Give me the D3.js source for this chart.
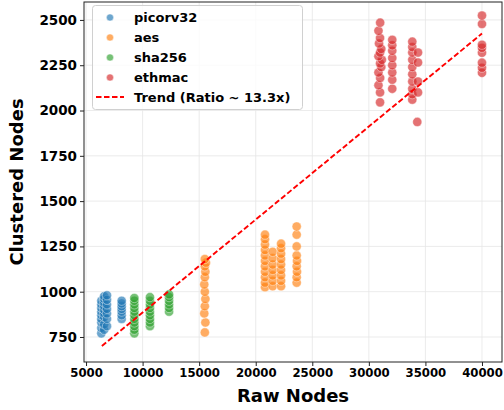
<!DOCTYPE html>
<html>
<head>
<meta charset="utf-8">
<script src="https://cdn.jsdelivr.net/npm/d3@7"></script>
<style>
  html, body { margin: 0; padding: 0; background: #fff; }
  text { font-family: "DejaVu Sans", sans-serif; font-weight: bold; }
</style>
</head>
<body>
<svg id="chart" width="504" height="410"></svg>
<script>
// series: raw node count, clustered node count
const designs = ["picorv32", "aes", "sha256", "ethmac"];
const colors = ["#1f77b4", "#ff7f0e", "#2ca02c", "#d62728"];

const picorv32 = [
    [6350, 770], [6350, 800], [6350, 830], [6350, 850], [6350, 870], [6350, 890], [6350, 910], [6350, 930], [6350, 950],
    [6600, 790], [6600, 820], [6600, 860], [6600, 880], [6600, 900], [6600, 920], [6600, 940], [6600, 960], [6600, 975],
    [6850, 810], [6850, 850], [6850, 880], [6850, 905], [6850, 930], [6850, 955], [6850, 980],
    [8150, 850], [8150, 870], [8150, 890], [8150, 905], [8150, 920], [8150, 935], [8150, 950]
];
const aes = [
    [15500, 775], [15550, 830], [15450, 880], [15500, 920], [15550, 960], [15500, 1000], [15450, 1040],
    [15500, 1080], [15550, 1110], [15500, 1140], [15600, 1160], [15500, 1180],
    [20820, 1025], [20820, 1050], [20820, 1080], [20820, 1110], [20820, 1140], [20820, 1170],
    [20820, 1200], [20820, 1230], [20820, 1260], [20820, 1290], [20820, 1315],
    [21500, 1030], [21500, 1060], [21500, 1090], [21500, 1120], [21500, 1150], [21500, 1185], [21500, 1220],
    [22240, 1030], [22240, 1060], [22240, 1090], [22240, 1120], [22240, 1150], [22240, 1180],
    [22240, 1210], [22240, 1240], [22240, 1265],
    [23620, 1050], [23620, 1080], [23650, 1110], [23620, 1140], [23650, 1170], [23620, 1200],
    [23620, 1250], [23620, 1315], [23620, 1360]
];
const sha256 = [
    [9270, 770], [9270, 790], [9270, 810], [9270, 830], [9270, 850], [9270, 870], [9270, 890],
    [9270, 910], [9270, 930], [9270, 950], [9270, 965],
    [10650, 810], [10650, 830], [10650, 850], [10650, 870], [10650, 890], [10650, 910],
    [10650, 930], [10650, 950], [10650, 970],
    [12340, 890], [12340, 910], [12340, 930], [12340, 950], [12340, 970], [12340, 985]
];
const ethmac = [
    [30990, 2045], [30990, 2100], [30850, 2140], [31000, 2180], [30850, 2210], [31100, 2240],
    [30990, 2260], [31150, 2280], [30850, 2300], [30990, 2320], [31100, 2340], [30900, 2370],
    [30990, 2400], [30850, 2440], [31000, 2485],
    [32070, 2120], [32070, 2170], [32070, 2210], [32070, 2250], [32070, 2290], [32070, 2330],
    [32070, 2360], [32070, 2390],
    [33840, 2060], [33840, 2090], [33840, 2120], [33840, 2160], [33840, 2200], [33840, 2240],
    [33840, 2280], [33840, 2320], [33840, 2350], [33840, 2380],
    [34345, 2100], [34345, 2160], [34345, 2265], [34345, 2320], [34280, 1937],
    [40000, 2208], [40000, 2236], [40000, 2264], [40000, 2319], [40000, 2346], [40000, 2363],
    [40000, 2478], [40000, 2524]
];
const seriesData = [picorv32, aes, sha256, ethmac];

const trend = [[6400, 700], [40000, 2425]];
const trendLabel = "Trend (Ratio ~ 13.3x)";

const xTicks = [5000, 10000, 15000, 20000, 25000, 30000, 35000, 40000];
const yTicks = [750, 1000, 1250, 1500, 1750, 2000, 2250, 2500];

const svg = d3.select("#chart");
const margin = {left: 84, right: 2, top: 2, bottom: 48};
const W = 504, H = 410;

const x = d3.scaleLinear().domain([4820, 41770]).range([margin.left, W - margin.right]);
const y = d3.scaleLinear().domain([612, 2599]).range([H - margin.bottom, margin.top]);

// grid
svg.append("g").selectAll("line").data(xTicks).join("line")
    .attr("x1", d => x(d)).attr("x2", d => x(d))
    .attr("y1", margin.top).attr("y2", H - margin.bottom)
    .attr("stroke", "#e6e6e6").attr("stroke-width", 0.8);
svg.append("g").selectAll("line").data(yTicks).join("line")
    .attr("y1", d => y(d)).attr("y2", d => y(d))
    .attr("x1", margin.left).attr("x2", W - margin.right)
    .attr("stroke", "#e6e6e6").attr("stroke-width", 0.8);

// points
const pts = svg.append("g");
seriesData.forEach((data, i) => {
    pts.append("g").selectAll("circle").data(data).join("circle")
        .attr("cx", d => x(d[0]))
        .attr("cy", d => y(d[1]))
        .attr("r", 4.6)
        .attr("fill", colors[i])
        .attr("fill-opacity", 0.65)
        .attr("stroke", "#fff")
        .attr("stroke-opacity", 0.7)
        .attr("stroke-width", 0.6);
});

// trend line
svg.append("path")
    .datum(trend)
    .attr("d", d3.line().x(d => x(d[0])).y(d => y(d[1])))
    .attr("fill", "none")
    .attr("stroke", "#ff0000")
    .attr("stroke-width", 1.9)
    .attr("stroke-dasharray", "5.5,2.5");

// axes
const xAxis = svg.append("g")
    .attr("transform", `translate(0,${H - margin.bottom})`)
    .call(d3.axisBottom(x).tickValues(xTicks).tickFormat(d3.format("d")).tickSizeOuter(0).tickSize(4).tickPadding(3));
xAxis.selectAll("text").attr("font-size", 11.7).attr("fill", "#000");

const yAxis = svg.append("g")
    .attr("transform", `translate(${margin.left},0)`)
    .call(d3.axisLeft(y).tickValues(yTicks).tickFormat(d3.format("d")).tickSizeOuter(0).tickSize(4).tickPadding(3));
yAxis.selectAll("text").attr("font-size", 13.5).attr("fill", "#000");

[xAxis, yAxis].forEach(a => {
    a.select(".domain").remove();
    a.selectAll(".tick line").attr("stroke", "#222").attr("stroke-width", 1);
});

// spines
svg.append("rect")
    .attr("x", margin.left).attr("y", margin.top)
    .attr("width", W - margin.left - margin.right)
    .attr("height", H - margin.top - margin.bottom)
    .attr("fill", "none").attr("stroke", "#222").attr("stroke-width", 1);

// axis titles
svg.append("text")
    .attr("x", 293).attr("y", 402)
    .attr("text-anchor", "middle")
    .attr("font-size", 18)
    .text("Raw Nodes");
svg.append("text")
    .attr("transform", "translate(23,182) rotate(-90)")
    .attr("text-anchor", "middle")
    .attr("font-size", 18)
    .text("Clustered Nodes");

// legend
const lg = svg.append("g");
lg.append("rect")
    .attr("x", 92.5).attr("y", 5.5).attr("width", 210).attr("height", 104).attr("rx", 3)
    .attr("fill", "#fff").attr("fill-opacity", 0.8)
    .attr("stroke", "#d0d0d0").attr("stroke-width", 1);
const rowY = [17.5, 37.5, 57.5, 77.5];
designs.forEach((name, i) => {
    lg.append("circle")
        .attr("cx", 110).attr("cy", rowY[i]).attr("r", 3.6)
        .attr("fill", colors[i]).attr("fill-opacity", 0.65)
        .attr("stroke", "#fff").attr("stroke-width", 0.5);
    lg.append("text")
        .attr("x", 134).attr("y", rowY[i]).attr("dy", "0.35em")
        .attr("font-size", 13).text(name);
});
lg.append("line")
    .attr("x1", 96).attr("x2", 124).attr("y1", 97).attr("y2", 97)
    .attr("stroke", "#ff0000").attr("stroke-width", 1.9).attr("stroke-dasharray", "5.5,2.5");
lg.append("text")
    .attr("x", 134).attr("y", 97).attr("dy", "0.35em")
    .attr("font-size", 13).text(trendLabel);
</script>
</body>
</html>
